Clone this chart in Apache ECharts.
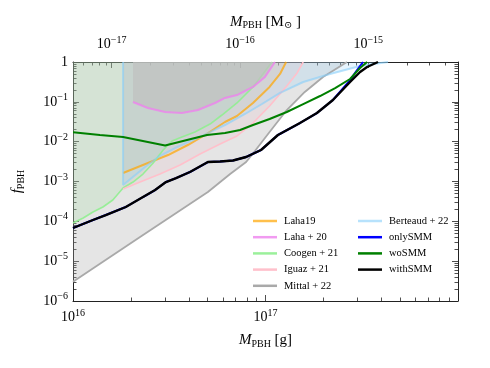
<!DOCTYPE html>
<html>
<head>
<meta charset="utf-8">
<script src="https://cdn.jsdelivr.net/npm/echarts@6/dist/echarts.min.js"></script>
<style>
  html, body { margin: 0; padding: 0; background: #fff; }
  #chart { width: 490px; height: 368px; }
</style>
</head>
<body>
<div id="chart"></div>
<script>
// masses in g, fractions f_PBH
const laha19M = [1.82e16, 2.45e16, 3.12e16, 3.95e16, 4.85e16, 6.16e16, 7.11e16, 8.61e16, 1.05e17, 1.19e17, 1.28e17]
const laha19F = [1.63e-3, 2.91e-3, 4.62e-3, 8.24e-3, 1.47e-2, 3.12e-2, 4.41e-2, 9.35e-2, 0.236, 0.50, 1.0]

const laha20M = [2.05e16, 2.45e16, 3.01e16, 3.68e16, 4.46e16, 5.47e16, 6.16e16, 7.11e16, 8.61e16, 9.94e16, 1.12e17]
const laha20F = [9.9e-2, 7.0e-2, 5.56e-2, 5.24e-2, 6.23e-2, 9.35e-2, 0.125, 0.148, 0.236, 0.42, 1.0]

const coogenM = [1.0e16, 1.13e16, 1.27e16, 1.43e16, 1.61e16, 1.82e16, 2.05e16, 2.31e16, 2.61e16, 2.94e16, 3.27e16, 3.68e16, 4.30e16, 5.15e16, 5.94e16, 7.11e16, 8.61e16, 9.70e16, 1.08e17]
const coogenF = [9.1e-5, 1.21e-4, 1.71e-4, 2.29e-4, 3.43e-4, 6.87e-4, 9.7e-4, 1.54e-3, 2.91e-3, 6.18e-3, 1.04e-2, 1.31e-2, 1.75e-2, 2.77e-2, 4.67e-2, 9.35e-2, 0.236, 0.50, 1.0]

const iguazM = [1.82e16, 2.23e16, 2.83e16, 3.60e16, 4.57e16, 5.81e16, 7.11e16, 8.61e16, 1.05e17, 1.29e17, 1.46e17, 1.57e17]
const iguazF = [6.48e-4, 9.7e-4, 1.54e-3, 2.59e-3, 4.9e-3, 8.73e-3, 1.39e-2, 2.94e-2, 7.85e-2, 0.25, 0.53, 1.0]

const mittalM = [1.0e16, 2.23e16, 5.02e16, 6.55e16, 7.93e16, 8.81e16, 1.05e17, 1.29e17, 1.60e17, 1.99e17, 2.65e17]
const mittalF = [3.05e-6, 4.04e-5, 5.45e-4, 1.54e-3, 3.08e-3, 5.83e-3, 1.75e-2, 6.23e-2, 0.177, 0.42, 1.0]

const berteaudM = [1.82e16, 1.82e16, 2.37e16, 2.77e16, 3.39e16, 4.46e16, 6.16e16, 7.83e16, 9.59e16, 1.19e17, 1.57e17, 2.16e17, 3.10e17, 4.33e17]
const berteaudF = [1.0, 8.2e-4, 2.31e-3, 4.12e-3, 6.93e-3, 1.24e-2, 2.62e-2, 4.95e-2, 8.82e-2, 0.167, 0.315, 0.50, 0.794, 1.0]

const onlySmmM = [1.0e16, 1.27e16, 1.48e16, 1.88e16, 2.31e16, 2.67e16, 3.04e16, 3.43e16, 4.05e16, 5.02e16, 5.81e16, 6.78e16, 7.93e16, 9.48e16, 1.16e17, 1.51e17, 1.85e17, 2.24e17, 2.75e17, 2.99e17, 3.21e17]
const onlySmmF = [6.8e-5, 1.08e-4, 1.44e-4, 2.29e-4, 4.08e-4, 6.1e-4, 9.7e-4, 1.22e-3, 1.73e-3, 3.08e-3, 3.18e-3, 3.37e-3, 4.12e-3, 6.18e-3, 1.47e-2, 2.94e-2, 5.24e-2, 0.111, 0.35, 0.63, 1.0]

const woSmmM = [1.0e16, 1.38e16, 1.82e16, 3.01e16, 3.91e16, 4.97e16, 6.16e16, 7.38e16, 8.61e16, 1.05e17, 1.29e17, 1.57e17, 1.92e17, 2.30e17, 2.75e17, 3.10e17, 3.37e17]
const woSmmF = [1.72e-2, 1.47e-2, 1.31e-2, 8.0e-3, 1.10e-2, 1.47e-2, 1.65e-2, 1.96e-2, 2.62e-2, 3.71e-2, 5.56e-2, 8.8e-2, 0.140, 0.222, 0.374, 0.707, 1.0]

const withSmmM = [1.0e16, 1.27e16, 1.48e16, 1.88e16, 2.31e16, 2.67e16, 3.04e16, 3.43e16, 4.05e16, 5.02e16, 5.81e16, 6.78e16, 7.93e16, 9.48e16, 1.16e17, 1.51e17, 1.85e17, 2.24e17, 2.75e17, 3.10e17, 3.37e17, 3.84e17]
const withSmmF = [6.8e-5, 1.08e-4, 1.44e-4, 2.29e-4, 4.08e-4, 6.1e-4, 9.7e-4, 1.22e-3, 1.73e-3, 3.08e-3, 3.18e-3, 3.37e-3, 4.12e-3, 6.18e-3, 1.47e-2, 2.94e-2, 5.24e-2, 0.111, 0.315, 0.561, 0.749, 1.0]

// tick labels
const xTicks = [1e16, 1e17, 1e18]
const yTicks = [1e-6, 1e-5, 1e-4, 1e-3, 1e-2, 1e-1, 1]
const topTicks = [1e-17, 1e-16, 1e-15]

const FONT = '"Liberation Serif", "DejaVu Serif", serif'

function minorTicks(lo, hi) {
  const out = []
  for (let e = Math.floor(Math.log10(lo)); e <= Math.ceil(Math.log10(hi)); e++) {
    for (let k = 2; k <= 9; k++) {
      const v = k * Math.pow(10, e)
      if (v > lo && v < hi) out.push(v)
    }
  }
  return out
}

function expLabel(v) {
  const e = Math.round(Math.log10(v))
  if (e === 0) return '{b|1}'
  return '{b|10}{e|' + (e < 0 ? '\u2212' + (-e) : e) + '}'
}

const labelRich = {
  b: { fontFamily: FONT, fontSize: 14, color: '#000' },
  e: { fontFamily: FONT, fontSize: 10, color: '#000', padding: [0, 0, 9, 0] }
}
const nameRich = {
  i: { fontFamily: FONT, fontSize: 15, fontStyle: 'italic', color: '#000' },
  s: { fontFamily: FONT, fontSize: 10, color: '#000', padding: [7, 0, 0, 0] },
  n: { fontFamily: FONT, fontSize: 15, color: '#000' }
}

function tickAxis(pos, type, min, max, values, len, extra) {
  return Object.assign({
    type: type,
    position: pos,
    min: min,
    max: max,
    axisLine: { show: false },
    axisLabel: { show: false },
    splitLine: { show: false },
    axisTick: { show: true, inside: true, length: len, customValues: values, lineStyle: { color: '#222', width: 0.8 } }
  }, extra || {})
}

const chart = echarts.init(document.getElementById('chart'))

function mk(m, f) {
  return m.map((v, i) => [v, f[i]])
}

function curve(name, m, f, color, width, fill, z) {
  const s = {
    name: name,
    type: 'line',
    data: mk(m, f),
    color: color,
    showSymbol: false,
    symbol: 'none',
    lineStyle: { color: color, width: width },
    z: z || 2
  }
  if (fill) s.areaStyle = { origin: 'end', color: fill, opacity: 1 }
  return s
}

const legendText = { fontFamily: FONT, fontSize: 10.5, lineHeight: 12, color: '#000', padding: [0, 0, 0, 2] }

const option = {
  animation: false,
  backgroundColor: '#fff',
  grid: { left: 73, right: 32, top: 62, bottom: 67 },
  legend: [
    {
      data: ['Laha19', 'Laha + 20', 'Coogen + 21', 'Iguaz + 21', 'Mittal + 22'],
      orient: 'vertical', left: 253, top: 215, padding: 0,
      icon: 'rect', itemWidth: 24, itemHeight: 2.5, itemGap: 4.2,
      textStyle: legendText
    },
    {
      data: ['Berteaud + 22', 'onlySMM', 'woSMM', 'withSMM'],
      orient: 'vertical', left: 358, top: 215, padding: 0,
      icon: 'rect', itemWidth: 24, itemHeight: 2.5, itemGap: 4.2,
      textStyle: legendText
    }
  ],
  xAxis: [
    {
      type: 'log', position: 'bottom', min: 1e16, max: 1e18,
      name: '{i|M}{s|PBH}{n| [g]}', nameLocation: 'middle', nameGap: 31,
      nameTextStyle: { rich: nameRich },
      axisLine: { show: true, lineStyle: { color: '#222', width: 1 } },
      axisTick: { show: true, inside: true, length: 6, customValues: xTicks, lineStyle: { color: '#222', width: 0.8 } },
      axisLabel: { customValues: xTicks, formatter: expLabel, rich: labelRich, margin: 7 },
      splitLine: { show: false }
    },
    tickAxis('bottom', 'log', 1e16, 1e18, minorTicks(1e16, 1e18), 3.5),
    {
      type: 'log', position: 'top', min: 5e-18, max: 5e-15,
      name: '{i|M}{s|PBH}{n| [M}{s|\u2299}{n| ]}', nameLocation: 'middle', nameGap: 31,
      nameTextStyle: { rich: nameRich },
      axisLine: { show: true, lineStyle: { color: '#222', width: 1 } },
      axisTick: { show: true, inside: true, length: 6, customValues: topTicks, lineStyle: { color: '#222', width: 0.8 } },
      axisLabel: { customValues: topTicks, formatter: expLabel, rich: labelRich, margin: 8 },
      splitLine: { show: false }
    },
    tickAxis('top', 'log', 5e-18, 5e-15, minorTicks(5e-18, 5e-15), 3.5)
  ],
  yAxis: [
    {
      type: 'log', position: 'left', min: 1e-6, max: 1,
      name: '{i|f}{s|PBH}', nameLocation: 'middle', nameGap: 47,
      nameTextStyle: { rich: nameRich },
      axisLine: { show: true, lineStyle: { color: '#222', width: 1 } },
      axisTick: { show: true, inside: true, length: 6, customValues: yTicks, lineStyle: { color: '#222', width: 0.8 } },
      axisLabel: { customValues: yTicks, formatter: expLabel, rich: labelRich, margin: 5 },
      splitLine: { show: false }
    },
    tickAxis('left', 'log', 1e-6, 1, minorTicks(1e-6, 1), 3.5),
    tickAxis('right', 'log', 1e-6, 1, yTicks, 6, { axisLine: { show: true, lineStyle: { color: '#222', width: 1 } } }),
    tickAxis('right', 'log', 1e-6, 1, minorTicks(1e-6, 1), 3.5)
  ],
  series: [
    curve('Laha19', laha19M, laha19F, 'rgba(255,165,0,0.7)', 2, 'rgba(255,165,0,0.12)'),
    curve('Laha + 20', laha20M, laha20F, 'rgba(238,130,238,0.8)', 2, 'rgba(192,192,192,0.7)', 3),
    curve('Coogen + 21', coogenM, coogenF, 'rgba(144,238,144,0.9)', 1.6, 'rgba(144,238,144,0.2)'),
    curve('Iguaz + 21', iguazM, iguazF, 'rgba(255,192,203,1)', 1.6, 'rgba(255,192,203,0.2)'),
    curve('Mittal + 22', mittalM, mittalF, '#a9a9a9', 1.8, 'rgba(169,169,169,0.3)'),
    curve('Berteaud + 22', berteaudM, berteaudF, 'rgba(135,206,250,0.6)', 2, 'rgba(135,206,250,0.2)'),
    curve('onlySMM', onlySmmM, onlySmmF, '#0000ff', 2, null, 4),
    curve('woSMM', woSmmM, woSmmF, '#008000', 2, null, 4),
    curve('withSMM', withSmmM, withSmmF, '#000000', 2.4, null, 4)
  ]
}

option.series.forEach(s => { s.xAxisIndex = 0; s.yAxisIndex = 0 })
chart.setOption(option)
</script>
</body>
</html>
